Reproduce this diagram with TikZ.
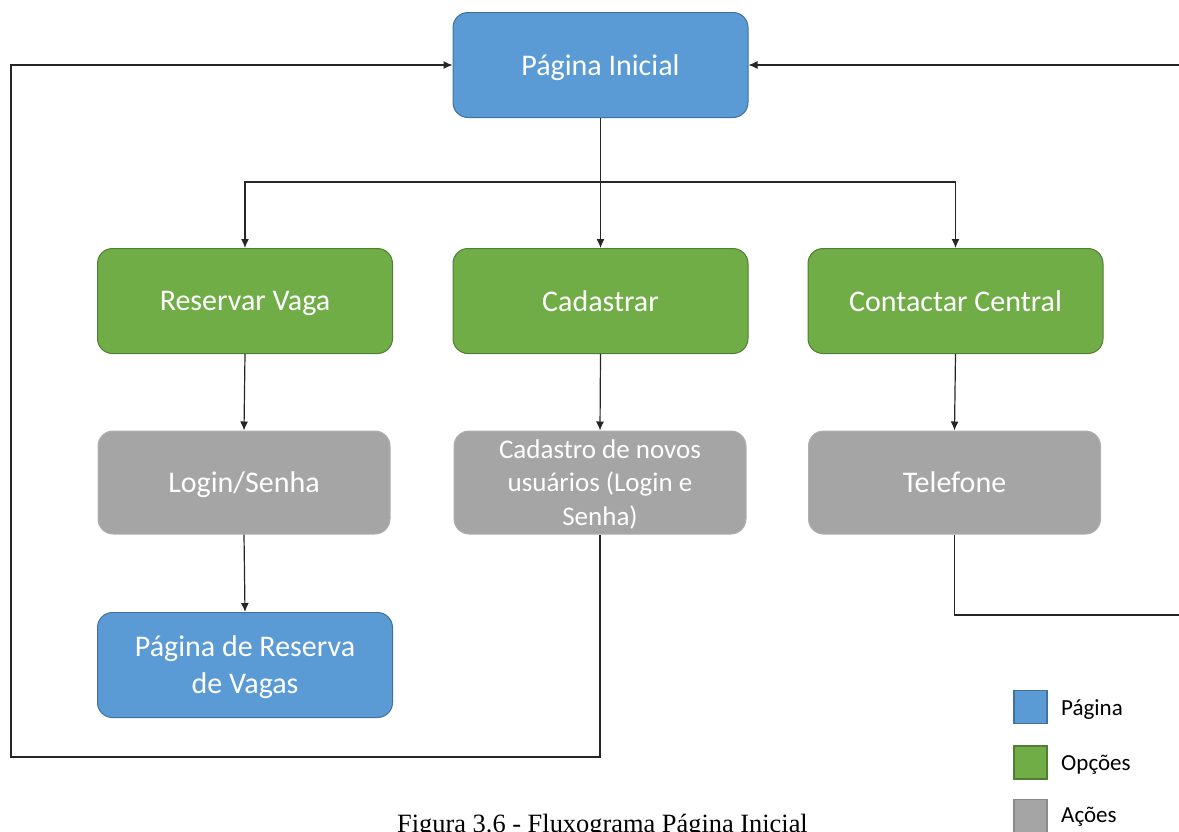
\documentclass[tikz,border=0pt]{standalone}
\usepackage{fontspec}
\setmainfont{Carlito}
\newfontfamily\capfont{Liberation Serif}
\usetikzlibrary{arrows.meta}

\definecolor{pagefill}{HTML}{5B9BD5}
\definecolor{pageline}{HTML}{41719C}
\definecolor{optfill}{HTML}{70AD47}
\definecolor{optline}{HTML}{507E32}
\definecolor{actfill}{HTML}{A5A5A5}
\definecolor{actline}{HTML}{B0B0B0}
\definecolor{actlegline}{HTML}{8A8A8A}
\definecolor{wire}{HTML}{262626}

\tikzset{
  box/.style={rounded corners=15pt, minimum width=295pt, minimum height=105pt,
    inner sep=0pt, align=center, text=white, line width=1pt, text depth=0pt,
    font=\fontsize{30}{37}\selectfont},
  pagebox/.style={box, fill=pagefill, draw=pageline},
  optbox/.style={box, fill=optfill, draw=optline},
  actbox/.style={box, fill=actfill, draw=actline, minimum width=292pt, minimum height=103pt},
  arr/.style={draw=wire, line width=1.2pt, -{Latex[length=9pt,width=8pt]}},
  wireline/.style={draw=wire, line width=1.2pt},
  legsq/.style={minimum size=33pt, inner sep=0pt, line width=1.2pt},
  legtxt/.style={anchor=base west, inner sep=0pt, font=\fontsize{23}{27}\selectfont}
}

\begin{document}
\begin{tikzpicture}[x=1pt, y=-1pt]
  \useasboundingbox (0,0) rectangle (1179,831);
  \clip (0,0) rectangle (1179,831);

  % main page
  \node[pagebox] (ini) at (600.5,65) {Página Inicial};

  % options
  \node[optbox] (res) at (245,301) {Reservar Vaga};
  \node[optbox] (cad) at (600.5,301) {Cadastrar};
  \node[optbox] (con) at (955.5,301) {Contactar Central};

  % actions
  \node[actbox] (log) at (244,482.5) {Login/Senha};
  \node[actbox, text depth=-5pt, font=\fontsize{27}{33.5}\selectfont] (nov) at (600,482.5)
    {Cadastro de novos\\usuários (Login e\\Senha)};
  \node[actbox] (tel) at (954.5,482.5) {Telefone};

  % reservation page
  \node[pagebox] (rpg) at (245,665) {Página de Reserva\\de Vagas};

  % branching from the main page
  \coordinate (fork) at (600.5,182);
  \draw[wireline] (ini.south) -- (fork);
  \draw[arr] (fork) -| (res.north);
  \draw[arr] (fork) -- (cad.north);
  \draw[arr] (fork) -| (con.north);

  % option to action
  \draw[arr] (res.south) -- (log.north);
  \draw[arr] (log.south) -- (rpg.north);
  \draw[arr] (cad.south) -- (nov.north);
  \draw[arr] (con.south) -- (tel.north);

  % return paths to the main page
  \coordinate (lb) at (11,757);
  \draw[arr] (nov.south) |- (lb) |- (ini.west);
  \coordinate (rb) at (1186,615);
  \draw[arr] (tel.south) |- (rb) |- (ini.east);

  % legend
  \node[legsq, fill=pagefill, draw=pageline] (lg1) at (1030.5,707) {};
  \node[legsq, fill=optfill, draw=optline] (lg2) at (1030.5,762.5) {};
  \node[legsq, fill=actfill, draw=actlegline] (lg3) at (1030.5,816) {};
  \node[legtxt] (lt1) at (1061,715) {Página};
  \node[legtxt] (lt2) at (1061,770) {Opções};
  \node[legtxt] (lt3) at (1061,822) {Ações};

  % caption
  \node[anchor=base, inner sep=0pt, font=\capfont\fontsize{26.4}{30}\selectfont] (cap) at (602.5,832.5)
    {Figura 3.6 - Fluxograma Página Inicial};
\end{tikzpicture}
\end{document}
